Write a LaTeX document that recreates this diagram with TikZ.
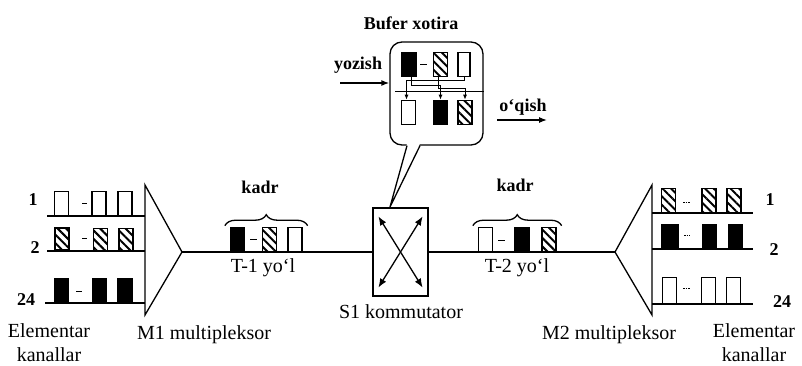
\documentclass[tikz,border=0pt]{standalone}
\usepackage{fontspec}
\setmainfont{Liberation Serif}
\usetikzlibrary{positioning,arrows.meta,calc,patterns.meta,decorations.pathreplacing}

\begin{document}
\begin{tikzpicture}[
  x=1pt, y=-1pt,
  line width=1.3pt,
  font=\fontsize{20}{24}\selectfont,
  pulse/.style={rectangle, draw, line width=1.3pt, minimum width=14, minimum height=24,
                inner sep=0pt, anchor=south},
  opl/.style={pulse, fill=white},
  bpl/.style={pulse, fill=black},
  hpl/.style={pulse, pattern={Lines[angle=-45,distance=6pt,line width=2pt]}},
  lbl/.style={font=\bfseries\fontsize{18}{20}\selectfont, inner sep=0pt},
  txt/.style={align=center, inner sep=0pt},
  gapdash/.style={line width=1pt},
  dotdash/.style={line width=1pt, dash pattern=on 1.5pt off 1pt},
  wire/.style={line width=1pt, -{Latex[length=5pt,width=4pt]}},
  sw/.style={{Latex[length=9pt,width=7pt]}-{Latex[length=9pt,width=7pt]}},
  flow/.style={-{Latex[length=8pt,width=6pt]}},
  brc/.style={decorate, decoration={brace, amplitude=11pt}}
]
\useasboundingbox (0,0) rectangle (802,366);

% multipleksorlar
\coordinate (m1n) at (145,185);
\coordinate (m1s) at (145,315);
\coordinate (m1) at (182,252);
\coordinate (m2n) at (652,185);
\coordinate (m2s) at (652,315);
\coordinate (m2) at (615,252);
\draw[line join=miter] (m1n) -- (m1) -- (m1s) -- cycle;
\draw[line join=miter] (m2n) -- (m2) -- (m2s) -- cycle;

% chap elementar kanallar
\node[lbl] (n1) at (33,200) {1};
\node[lbl] (n2) at (35,248) {2};
\node[lbl] (n24) at (26,300) {24};
\coordinate (e1) at (47,216);
\coordinate (e2) at (47,251);
\coordinate (e24) at (45,303);
\draw (e1) -- (e1 -| m1n);
\draw (e2) -- (e2 -| m1n);
\draw (e24) -- (e24 -| m1n);
\node[opl] (p1a) at (61.5,216) {};
\node[opl] (p1b) at (99,216) {};
\node[opl] (p1c) at (125,216) {};
\node[hpl, minimum height=22] (p2a) at (62,251) {};
\node[hpl, minimum height=22] (p2b) at (100.5,251) {};
\node[hpl, minimum height=22] (p2c) at (126,251) {};
\node[bpl] (p3a) at (61.5,303) {};
\node[bpl] (p3b) at (99.5,303) {};
\node[bpl] (p3c) at (125,303) {};
\draw[gapdash] (82,203) -- (87,203);
\draw[gapdash] (82,238) -- (87,238);
\draw[gapdash] (76,291) -- (82,291);

% o'ng elementar kanallar
\node[lbl] (r1) at (770,200) {1};
\node[lbl] (r2) at (774,250) {2};
\node[lbl] (r24) at (782,302) {24};
\coordinate (f1) at (753,213);
\coordinate (f2) at (753,249);
\coordinate (f24) at (753,304);
\draw (f1 -| m2n) -- (f1);
\draw (f2 -| m2n) -- (f2);
\draw (f24 -| m2n) -- (f24);
\node[hpl] (q1a) at (668.5,213) {};
\node[hpl] (q1b) at (709,213) {};
\node[hpl] (q1c) at (734,213) {};
\node[bpl, minimum width=16] (q2a) at (670,249) {};
\node[bpl] (q2b) at (709.5,249) {};
\node[bpl] (q2c) at (735.5,249) {};
\node[opl, minimum height=26] (q3a) at (669.5,304) {};
\node[opl, minimum height=26] (q3b) at (708.5,304) {};
\node[opl, minimum height=26] (q3c) at (733.5,304) {};
\draw[dotdash] (683,202) -- (690,202);
\draw[dotdash] (684,235) -- (690,235);
\draw[dotdash] (683,288) -- (690,288);

% kommutator
\node[draw, minimum width=55, minimum height=88, inner sep=0pt] (s1) at (400.5,252) {};
\draw[sw] ([shift={(6,9)}]s1.north west) -- ([shift={(-6,-9)}]s1.south east);
\draw[sw] ([shift={(-6,9)}]s1.north east) -- ([shift={(6,-9)}]s1.south west);
\draw (m1) -- (s1.west);
\draw (s1.east) -- (m2);

% T-1 va T-2 yo'llari
\node[bpl] (t1a) at (237.5,252) {};
\node[hpl] (t1b) at (269.5,252) {};
\node[opl] (t1c) at (295,252) {};
\draw[gapdash] (250,239) -- (257,239);
\draw[brc] ([shift={(-5,-1)}]t1a.north west) -- ([shift={(5,-1)}]t1c.north east);
\node[opl] (t2a) at (485.5,252) {};
\node[bpl] (t2b) at (522,252) {};
\node[hpl] (t2c) at (549,252) {};
\draw[gapdash] (498,240) -- (505,240);
\draw[brc] ([shift={(-5,-1)}]t2a.north west) -- ([shift={(5,-1)}]t2c.north east);

% bufer xotira
\node[draw, fill=white, rounded corners=12, minimum width=93, minimum height=103,
      inner sep=0pt] (buf) at (436.5,93.5) {};
\coordinate (tip) at (390,207);
\fill[white] ([shift={(-29.5,-2)}]buf.south) -- (tip) -- ([shift={(-16.5,-2)}]buf.south) -- cycle;
\draw ([xshift=-29.5]buf.south) -- (tip) -- ([xshift=-16.5]buf.south);
\node[bpl] (ta) at (409,77) {};
\node[hpl] (tb) at (440.5,77) {};
\node[opl, minimum width=12] (tc) at (464,77) {};
\draw[gapdash] (420,65) -- (427,65);
\node[opl] (ba) at (408.5,125) {};
\node[bpl] (bb) at (440.5,125) {};
\node[hpl] (bc) at (465,125) {};
\coordinate (bus) at (395,92);
\draw[line width=1pt] (bus) -- (bus -| buf.east);
\draw[wire] (tc.south) -- ++(0,4) -| ([xshift=-2]ba.north);
\draw[wire] ([xshift=2]ta.south) -- ++(0,9) -| (bb.north);
\draw[wire] ([xshift=-2]tb.south) -- ++(0,12) -| (bc.north);
\coordinate (wr) at (340,83);
\draw[flow] (wr) -- (wr -| buf.west);
\coordinate (rd) at (497,120);
\draw[flow] (rd) -- ++(50,0);

% yozuvlar
\node[lbl] (bx) at (411,23) {Bufer xotira};
\node[lbl] (yz) at (358,65) {yozish};
\node[lbl] (oq) at (523,107) {o‘qish};
\node[lbl] (kd1) at (260,187) {kadr};
\node[lbl] (kd2) at (515,185) {kadr};
\node[txt] (ty1) at (263,268) {T-1 yo‘l};
\node[txt] (ty2) at (517,268) {T-2 yo‘l};
\node[txt] (sl) at (401,312) {S1 kommutator};
\node[txt] (mx1) at (204,335) {M1 multipleksor};
\node[txt] (mx2) at (609,335) {M2 multipleksor};
\node[txt] (ek1) at (49,343) {Elementar\\kanallar};
\node[txt] (ek2) at (754,343) {Elementar\\kanallar};
\end{tikzpicture}
\end{document}
